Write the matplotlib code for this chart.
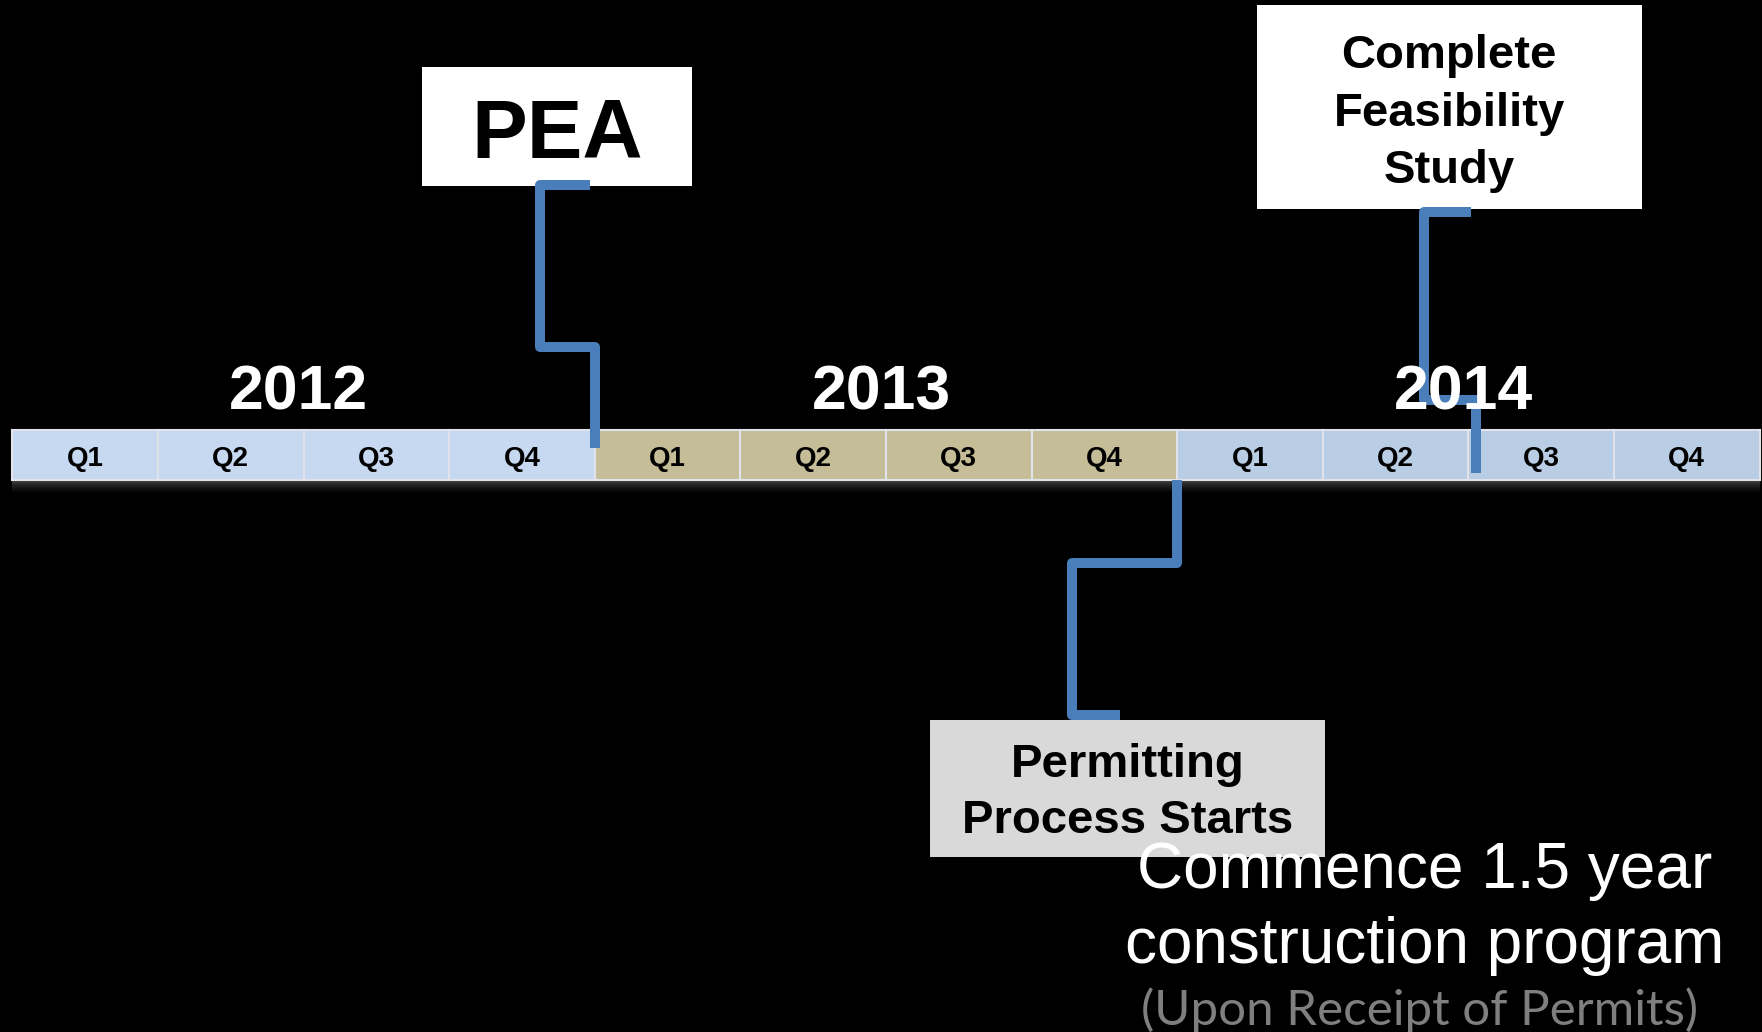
import numpy as np
import matplotlib.pyplot as plt
from matplotlib.patches import Rectangle

# timeline data
years = [2012, 2013, 2014]
quarters = ['Q1', 'Q2', 'Q3', 'Q4']
year_colors = ['#C6D9F1', '#C4BD97', '#B9CDE5']

# milestones: label, time in quarters counted from start of 2012
milestone_labels = ['PEA', 'Complete\nFeasibility\nStudy', 'Permitting\nProcess Starts']
milestone_times = [4.0, 10.05, 8.0]

construction_lines = ['Commence 1.5 year', 'construction program']
construction_note = '(Upon Receipt of Permits)'

W, H = 1762, 1032
QW = 145.6     # pixels per quarter
X0 = 12.4      # left edge of the bar in pixels
LINE = '#4A7EBB'
FONT = 'Liberation Sans'


def px(d):
    # pixel offset -> quarter units
    return d / QW


fig = plt.figure(figsize=(W / 100, H / 100), dpi=100, facecolor='black')
ax = fig.add_axes([0, 0, 1, 1])
ax.set_facecolor('black')
ax.set_xlim(-X0 / QW, (W - X0) / QW)
ax.set_ylim(H, 0)
ax.axis('off')

# quarter bar
n = len(years) * len(quarters)
pos = np.arange(n)
cols = [year_colors[i // len(quarters)] for i in range(n)]
ax.bar(pos + 0.5, 50, width=1, bottom=430, color=cols,
       edgecolor='#E2E2EA', linewidth=1.5, zorder=2)
for i, q in enumerate(quarters * len(years)):
    ax.text(i + 0.5, 466, q, ha='center', va='baseline', fontsize=20,
            fontweight='bold', family=FONT, color='black', zorder=3)

# soft shadow under the bar
for j in range(14):
    ax.fill_between([0, n], 480 + j, 481 + j, color='white',
                    alpha=0.26 * (1 - j / 14) ** 1.5, lw=0, zorder=1)

# year labels
for k, y in enumerate(years):
    ax.text(len(quarters) * k + 2 - px(5), 410, str(y), ha='center',
            va='baseline', fontsize=45, fontweight='bold', family=FONT,
            color='white', zorder=7)

# connectors (pixel offsets relative to milestone, y in pixels)
paths = [
    [(-5, 185), (-55, 185), (-55, 347), (0, 347), (0, 448)],
    [(-5, 212), (-52, 212), (-52, 400), (0, 400), (0, 473)],
    [(0, 480), (0, 563), (-105, 563), (-105, 715), (-57, 715)],
]
for t, p in zip(milestone_times, paths):
    xs = [t + px(d) for d, _ in p]
    ys = [yy for _, yy in p]
    ax.plot(xs, ys, color=LINE, lw=7.2, solid_joinstyle='round',
            solid_capstyle='butt', zorder=5)

# callout boxes: (left, right) offsets in px from milestone, top, bottom, fill
boxes = [(-173, 97, 67, 186, 'white'),
         (-219, 166, 5, 209, 'white'),
         (-247, 148, 720, 857, '#D9D9D9')]
text_base = [[158], [68, 126, 183], [777, 833]]
text_size = [60, 34, 34]
for t, lab, b, bl, fs in zip(milestone_times, milestone_labels, boxes,
                             text_base, text_size):
    l, r, top, bot, fc = b
    ax.add_patch(Rectangle((t + px(l), top), px(r - l), bot - top,
                           facecolor=fc, edgecolor='none', zorder=4))
    cx = t + px((l + r) / 2)
    for line, yb in zip(lab.split('\n'), bl):
        ax.text(cx, yb, line, ha='center', va='baseline', fontsize=fs,
                fontweight='bold', family=FONT, color='black', zorder=6)

# construction note
cx = (1425 - X0) / QW
for line, yb in zip(construction_lines, [888, 963]):
    ax.text(cx, yb, line, ha='center', va='baseline', fontsize=46,
            family=FONT, color='white', zorder=8)
ax.text((1420 - X0) / QW, 1025, construction_note, ha='center',
        va='baseline', fontsize=35.5, family='Lato', color='#7F7F7F', zorder=8)

fig.savefig('out.png', dpi=100, facecolor='black')
